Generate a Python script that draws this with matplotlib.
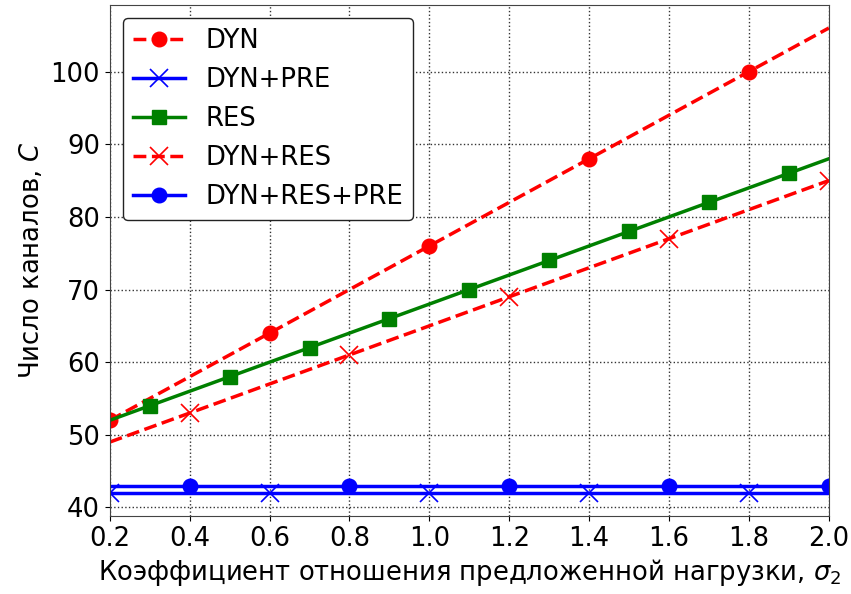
import matplotlib
matplotlib.use("Agg")
import matplotlib.pyplot as plt

x = [0.2, 0.3, 0.4, 0.5, 0.6, 0.7, 0.8, 0.9, 1.0, 1.1, 1.2, 1.3, 1.4, 1.5,
     1.6, 1.7, 1.8, 1.9, 2.0]
dyn = [52, 55, 58, 61, 64, 67, 70, 73, 76, 79, 82, 85, 88, 91, 94, 97, 100, 103, 106]
dyn_pre = [42] * 19
res = [52, 54, 56, 58, 60, 62, 64, 66, 68, 70, 72, 74, 76, 78, 80, 82, 84, 86, 88]
dyn_res = [49, 51, 53, 55, 57, 59, 61, 63, 65, 67, 69, 71, 73, 75, 77, 79, 81, 83, 85]
dyn_res_pre = [43] * 19
xticks = [0.2, 0.4, 0.6, 0.8, 1.0, 1.2, 1.4, 1.6, 1.8, 2.0]
yticks = [40, 50, 60, 70, 80, 90, 100]

fig = plt.figure(figsize=(8.51, 5.94), dpi=100)
ax = fig.add_axes([0.129, 0.131, 0.845, 0.861])

lw = 2.5
ms = 10.5
fs = 18.6
ax.plot(x, dyn, '--', color='red', marker='o', markevery=(0, 4), lw=lw, ms=ms, label='DYN')
ax.plot(x, dyn_pre, '-', color='blue', marker='x', markevery=(0, 4), lw=lw, ms=ms + 3, mew=1.2, label='DYN+PRE')
ax.plot(x, res, '-', color='green', marker='s', markevery=(1, 2), lw=lw, ms=ms, label='RES')
ax.plot(x, dyn_res, '--', color='red', marker='x', markevery=(2, 4), lw=lw, ms=ms + 3, mew=1.2, label='DYN+RES')
ax.plot(x, dyn_res_pre, '-', color='blue', marker='o', markevery=(2, 4), lw=lw, ms=ms, label='DYN+RES+PRE')

ax.set_xlim(0.2, 2.0)
ax.set_ylim(38.8, 109.2)
ax.set_xticks(xticks)
ax.set_yticks(yticks)
ax.tick_params(labelsize=fs)
ax.grid(True, linestyle=':', color='black', linewidth=1.0, alpha=0.8)
for s in ax.spines.values():
    s.set_color('#444444')
ax.set_xlabel('Коэффициент отношения предложенной нагрузки, $\\sigma_2$', fontsize=fs)
ax.set_ylabel('Число каналов, $C$', fontsize=fs)
leg = ax.legend(loc='upper left', fontsize=fs, edgecolor='#222222', framealpha=1.0)
leg.get_frame().set_linewidth(1.0)

fig.savefig('out.png', dpi=100)
